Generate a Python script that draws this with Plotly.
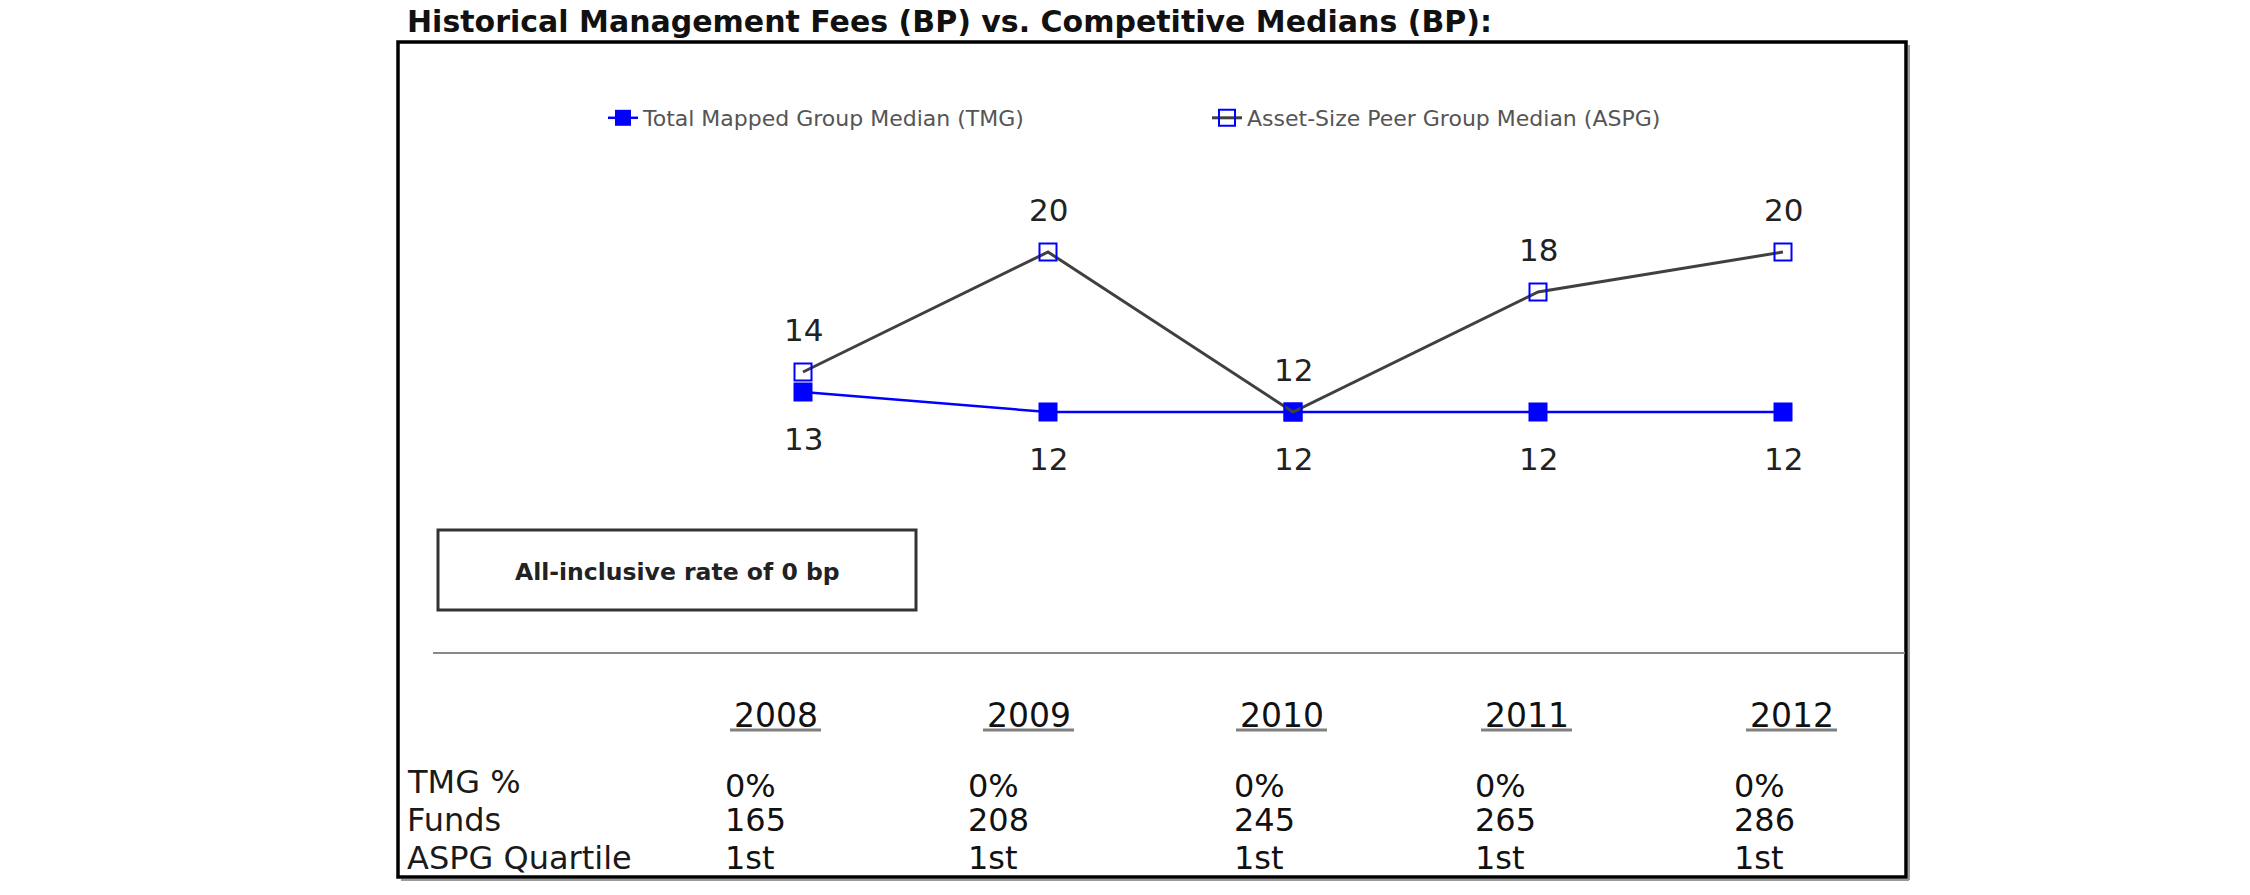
import plotly.graph_objects as go

# ---------------- data ----------------
years = [2008, 2009, 2010, 2011, 2012]
tmg_median = [13, 12, 12, 12, 12]
aspg_median = [14, 20, 12, 18, 20]
row_labels = ["TMG %", "Funds", "ASPG Quartile"]
tmg_pct = ["0%", "0%", "0%", "0%", "0%"]
funds = [165, 208, 245, 265, 286]
aspg_quartile = ["1st", "1st", "1st", "1st", "1st"]
title_text = "Historical Management Fees (BP) vs. Competitive Medians (BP):"
box_text = "All-inclusive rate of 0 bp"

# ---------------- layout constants (pixels in the page) ----------------
W, H = 2250, 895
FONT = "DejaVu Sans"


def px(x):
    return x / W


def py(y):
    return 1 - y / H


fig = go.Figure()

fig.add_trace(go.Scatter(
    x=years, y=tmg_median, mode="lines+markers",
    name="Total Mapped Group Median (TMG)",
    line=dict(color="#0000ff", width=2.5),
    marker=dict(symbol="square", size=19, color="#0000ff"),
    cliponaxis=False,
))
fig.add_trace(go.Scatter(
    x=years, y=aspg_median, mode="lines+markers",
    name="Asset-Size Peer Group Median (ASPG)",
    line=dict(color="#404040", width=3),
    marker=dict(symbol="square-open", size=17, color="#0000ff",
                line=dict(width=2, color="#0000ff")),
    cliponaxis=False,
))

ann = []
# data labels
for yr, v in zip(years, aspg_median):
    ann.append(dict(x=yr, y=v, xref="x", yref="y", text=str(v), showarrow=False,
                    yshift=42, font=dict(family=FONT, size=31, color="#222222")))
for yr, v in zip(years, tmg_median):
    ann.append(dict(x=yr, y=v, xref="x", yref="y", text=str(v), showarrow=False,
                    yshift=-47, font=dict(family=FONT, size=31, color="#222222")))

# title
ann.append(dict(x=px(405), y=py(21), xref="paper", yref="paper", xanchor="left",
                yanchor="middle", text="<b>" + title_text + "</b>", showarrow=False,
                font=dict(family=FONT, size=30, color="#111111")))

# box text
ann.append(dict(x=px(677), y=py(572), xref="paper", yref="paper", xanchor="center",
                yanchor="middle", text="<b>" + box_text + "</b>", showarrow=False,
                font=dict(family=FONT, size=23.5, color="#222222")))

# table
head_left = [732, 985, 1238, 1483, 1748]
val_left = [723, 966, 1232, 1473, 1732]
head_y = 715
label_y = [782, 820, 858]
value_y = [786, 820, 858]
rows = [tmg_pct, [str(f) for f in funds], aspg_quartile]

shapes = []
for i, yr in enumerate(years):
    ann.append(dict(x=px(head_left[i]), y=py(head_y), xref="paper", yref="paper",
                    xanchor="left", yanchor="middle", text=str(yr), showarrow=False,
                    font=dict(family=FONT, size=33, color="#111111")))
    shapes.append(dict(type="line", xref="paper", yref="paper",
                       x0=px(head_left[i] - 2), x1=px(head_left[i] + 89),
                       y0=py(730), y1=py(730), line=dict(color="#808080", width=3)))

for r, lab in enumerate(row_labels):
    ann.append(dict(x=px(405), y=py(label_y[r]), xref="paper", yref="paper",
                    xanchor="left", yanchor="middle", text=lab, showarrow=False,
                    font=dict(family=FONT, size=32, color="#1a1a1a")))
    for i, val in enumerate(rows[r]):
        ann.append(dict(x=px(val_left[i]), y=py(value_y[r]), xref="paper", yref="paper",
                        xanchor="left", yanchor="middle", text=val, showarrow=False,
                        font=dict(family=FONT, size=32, color="#111111")))

# frame (with a light shadow on the right / bottom), box, separator
shapes.append(dict(type="line", xref="paper", yref="paper",
                   x0=px(1909), x1=px(1909), y0=py(45), y1=py(880),
                   line=dict(color="#9a9a9a", width=2), layer="below"))
shapes.append(dict(type="line", xref="paper", yref="paper",
                   x0=px(401), x1=px(1909), y0=py(880), y1=py(880),
                   line=dict(color="#9a9a9a", width=2), layer="below"))
shapes.append(dict(type="rect", xref="paper", yref="paper",
                   x0=px(398), x1=px(1906), y0=py(42), y1=py(877),
                   line=dict(color="#000000", width=3.5), layer="below"))
shapes.append(dict(type="rect", xref="paper", yref="paper",
                   x0=px(438), x1=px(916), y0=py(530), y1=py(610),
                   line=dict(color="#333333", width=3)))
shapes.append(dict(type="line", xref="paper", yref="paper",
                   x0=px(433), x1=px(1905), y0=py(653), y1=py(653),
                   line=dict(color="#888888", width=2)))

# axis ranges: 2008 -> 803px, 245 px per year ; 12 -> 412px, 20 px per unit
x0 = 2008 - 803 / 245
x1 = x0 + W / 245
y_top = 12 + 412 / 20
y_bot = y_top - H / 20

fig.update_layout(
    width=W, height=H,
    margin=dict(l=0, r=0, t=0, b=0),
    paper_bgcolor="white", plot_bgcolor="white",
    xaxis=dict(range=[x0, x1], visible=False, fixedrange=True),
    yaxis=dict(range=[y_bot, y_top], visible=False, fixedrange=True),
    showlegend=True,
    legend=dict(orientation="h", x=px(603), y=py(118), xanchor="left", yanchor="middle",
                entrywidth=559, entrywidthmode="pixels",
                font=dict(family=FONT, size=22, color="#555555"),
                bgcolor="rgba(0,0,0,0)", traceorder="normal"),
    annotations=ann,
    shapes=shapes,
)

# remove the default 8px page margin so the figure fills the window exactly
fig.write_html("out.html",
               config={"displayModeBar": False},
               post_script="document.body.style.margin='0';document.body.style.padding='0';")
